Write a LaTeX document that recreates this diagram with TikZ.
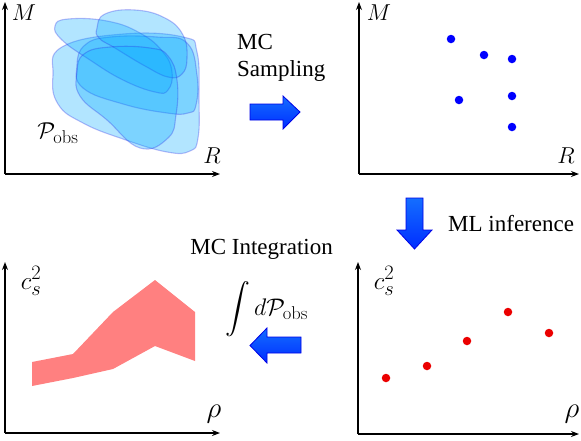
\RequirePackage{fix-cm}
\documentclass[tikz,border=0pt]{standalone}
\usepackage{fontspec}
\newfontfamily\tnr{Liberation Serif}
\usepackage{amsmath}
\usetikzlibrary{arrows.meta}
\DeclareMathSizes{23}{23}{18.5}{14}
\DeclareMathSizes{25}{25}{20.5}{15}
\DeclareMathSizes{24}{24}{18.5}{14}
\definecolor{blobfill}{RGB}{0,170,255}
\definecolor{blobdraw}{RGB}{40,40,230}
\definecolor{bandred}{RGB}{255,128,128}
\definecolor{dotred}{RGB}{235,0,0}
\definecolor{arrtop}{RGB}{20,110,255}
\definecolor{arrbot}{RGB}{0,45,255}
\definecolor{arrdraw}{RGB}{0,0,230}
\begin{document}
\begin{tikzpicture}[x=1pt,y=-1pt,
  axis/.style={line width=1.1pt,-{Stealth[length=8pt,width=6pt]}},
  mlab/.style={inner sep=0pt,font=\fontsize{23}{28}\selectfont},
  clab/.style={inner sep=0pt,font=\fontsize{25}{30}\selectfont},
  rholab/.style={inner sep=0pt,font=\fontsize{29}{34}\selectfont},
  ilab/.style={inner sep=0pt,font=\fontsize{24}{29}\selectfont},
  tlab/.style={inner sep=0pt,font=\tnr\fontsize{23}{27}\selectfont},
  blob/.style={fill=blobfill,fill opacity=0.3,
     draw=blobdraw,draw opacity=0.3,line width=1.1pt},
  bdot/.style={circle,fill=blue,inner sep=0pt,minimum size=8.5pt},
  rdot/.style={circle,fill=dotred,inner sep=0pt,minimum size=8.5pt},
  barrow/.style={top color=arrtop,bottom color=arrbot,draw=arrdraw,line width=0.8pt,line join=miter}
]
\useasboundingbox (0,0) rectangle (581,440);

% ---------- top-left panel ----------
\coordinate (o1) at (5,174);
\coordinate (y1) at (5,2);
\coordinate (x1) at (220,174);
\draw[axis] (o1) -- (y1);
\draw[axis] (o1) -- (x1);
\node[mlab] (M1) at (24,13) {$M$};
\node[mlab] (R1) at (212,156) {$R$};

\draw[blob] plot[smooth cycle,tension=0.75] coordinates
  {(53,75) (62,47) (123,34) (183,37) (197,52) (199,100) (198,138) (190,151) (167,152) (123,139) (83,123) (58,104)};
\draw[blob] plot[smooth cycle,tension=0.75] coordinates
  {(77,65) (85,45) (110,37) (157,37) (187,43) (197,75) (196,105) (188,113) (167,113) (123,104) (83,88)};
\draw[blob] plot[smooth cycle,tension=0.75] coordinates
  {(55,26) (68,19) (107,21) (140,33) (163,52) (172,72) (168,90) (155,92) (123,80) (90,60) (62,40)};
\draw[blob] plot[smooth cycle,tension=0.75] coordinates
  {(97,28) (105,14) (135,10) (165,18) (183,35) (187,58) (182,74) (168,77) (145,66) (115,48) (99,38)};
\draw[blob] plot[smooth cycle,tension=0.75] coordinates
  {(77,72) (84,54) (110,47) (150,48) (168,56) (177,80) (176,115) (168,138) (140,148) (107,120) (80,96)};
\node[mlab] (P) at (58,133) {$\mathcal{P}_{\mathrm{obs}}$};

% ---------- top-right panel ----------
\coordinate (o2) at (359,174);
\coordinate (y2) at (359,2);
\coordinate (x2) at (579,174);
\draw[axis] (o2) -- (y2);
\draw[axis] (o2) -- (x2);
\node[mlab] (M2) at (379,13) {$M$};
\node[mlab] (R2) at (566,156) {$R$};
\node[bdot] (b1) at (451,39) {};
\node[bdot] (b2) at (484,55) {};
\node[bdot] (b3) at (512,59) {};
\node[bdot] (b4) at (459,100) {};
\node[bdot] (b5) at (512,96) {};
\node[bdot] (b6) at (512,127) {};

% ---------- bottom-left panel ----------
\coordinate (o3) at (5,433);
\coordinate (y3) at (5,262);
\coordinate (x3) at (220,433);
\draw[axis] (o3) -- (y3);
\draw[axis] (o3) -- (x3);
\node[clab] (c1) at (31,281) {$c_s^2$};
\node[rholab] (rho1) at (214,414) {$\rho$};
\fill[bandred]
  (32,362) -- (73,354) -- (113,312) -- (155,280) -- (195,312) -- (195,361)
  -- (155,346) -- (113,369) -- (73,378) -- (32,386) -- cycle;

% ---------- bottom-right panel ----------
\coordinate (o4) at (358,434);
\coordinate (y4) at (358,262);
\coordinate (x4) at (579,434);
\draw[axis] (o4) -- (y4);
\draw[axis] (o4) -- (x4);
\node[clab] (c2) at (384,281) {$c_s^2$};
\node[rholab] (rho2) at (572,414) {$\rho$};
\node[rdot] (r1) at (386,378) {};
\node[rdot] (r2) at (427,366) {};
\node[rdot] (r3) at (467,341) {};
\node[rdot] (r4) at (508,312) {};
\node[rdot] (r5) at (549,333) {};

% ---------- block arrows ----------
\draw[barrow] (250,104) -- (283,104) -- (283,96) -- (300,112) -- (283,129) -- (283,120) -- (250,120) -- cycle;
\draw[barrow] (406,198) -- (423,198) -- (423,230) -- (432,230) -- (414.5,249) -- (397,230) -- (406,230) -- cycle;
\draw[barrow] (301,337) -- (267,337) -- (267,328) -- (250,345.5) -- (267,363) -- (267,353) -- (301,353) -- cycle;

% ---------- texts ----------
\node[tlab,anchor=base west] (mc) at (237,49) {MC};
\node[tlab,anchor=base west] (samp) at (237,76) {Sampling};
\node[tlab,anchor=base west] (mli) at (448,231) {ML inference};
\node[tlab,anchor=base east] (mci) at (333,254) {MC Integration};
\node[ilab,anchor=base west] (int) at (225,315)
  {$\displaystyle\int d\mathcal{P}_{\mathrm{obs}}$};
\end{tikzpicture}
\end{document}
